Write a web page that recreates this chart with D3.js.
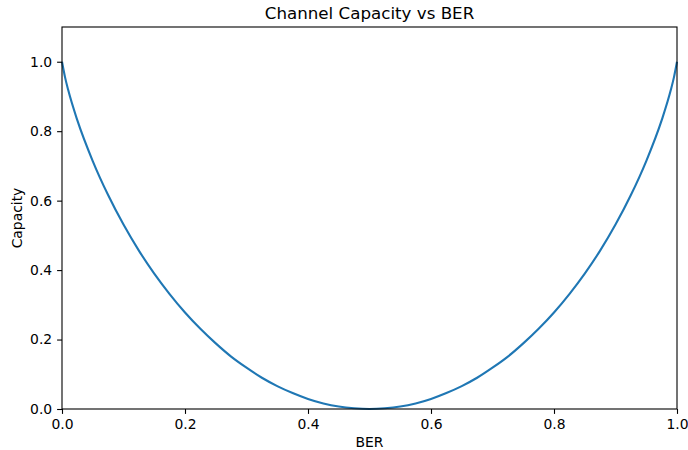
<!DOCTYPE html>
<html lang="en">
<head>
  <meta charset="UTF-8">
  <title>Channel Capacity vs BER</title>
  <script src="https://d3js.org/d3.v7.min.js"></script>
  <style>
    body {margin: 0; background: #fff;}
    text {font-family: "DejaVu Sans", sans-serif; fill: #000;}
    .tick text {font-size: 13.9px;}
    .axis-label {font-size: 13.9px;}
    .title {font-size: 16.7px;}
  </style>
</head>
<body>
  <div id="chart"></div>
  <script>
    // values
    const ber = [0, 0.005, 0.01, 0.025, 0.05, 0.075, 0.1, 0.125, 0.15, 0.175, 0.2, 0.225, 0.25,
      0.275, 0.3, 0.325, 0.35, 0.375, 0.4, 0.425, 0.45, 0.475, 0.5,
      0.525, 0.55, 0.575, 0.6, 0.625, 0.65, 0.675, 0.7, 0.725, 0.75, 0.775, 0.8,
      0.825, 0.85, 0.875, 0.9, 0.925, 0.95, 0.975, 0.99, 0.995, 1];
    const capacity = [1, 0.955, 0.919, 0.831, 0.714, 0.616, 0.531, 0.456, 0.390, 0.331, 0.278, 0.231, 0.189,
      0.151, 0.119, 0.090, 0.066, 0.046, 0.029, 0.016, 0.007, 0.002, 0,
      0.002, 0.007, 0.016, 0.029, 0.046, 0.066, 0.090, 0.119, 0.151, 0.189, 0.231, 0.278,
      0.331, 0.390, 0.456, 0.531, 0.616, 0.714, 0.831, 0.919, 0.955, 1];
    const xTicks = [0, 0.2, 0.4, 0.6, 0.8, 1.0];
    const yTicks = [0, 0.2, 0.4, 0.6, 0.8, 1.0];

    const width = 688, height = 450;
    const margin = {top: 27, right: 11, bottom: 41, left: 62};

    const svg = d3.select("#chart").append("svg")
      .attr("width", width)
      .attr("height", height);

    const x = d3.scaleLinear().domain([0, 1]).range([margin.left, width - margin.right]);
    const y = d3.scaleLinear().domain([0, 1.1]).range([height - margin.bottom, margin.top]);

    const line = d3.line()
      .x((d, i) => x(ber[i]))
      .y(d => y(d))
      .curve(d3.curveMonotoneX);

    svg.append("path")
      .datum(capacity)
      .attr("fill", "none")
      .attr("stroke", "#1f77b4")
      .attr("stroke-width", 2.1)
      .attr("d", line);

    const xAxis = svg.append("g")
      .attr("transform", `translate(0,${height - margin.bottom})`)
      .call(d3.axisBottom(x).tickValues(xTicks).tickFormat(d3.format(".1f")).tickSize(4.9).tickPadding(4.9));
    const yAxis = svg.append("g")
      .attr("transform", `translate(${margin.left},0)`)
      .call(d3.axisLeft(y).tickValues(yTicks).tickFormat(d3.format(".1f")).tickSize(4.9).tickPadding(4.9));
    [xAxis, yAxis].forEach(g => {
      g.select(".domain").remove();
      g.selectAll(".tick line").attr("stroke", "#000").attr("stroke-width", 1.1);
    });

    // frame
    svg.append("rect")
      .attr("x", margin.left)
      .attr("y", margin.top)
      .attr("width", width - margin.left - margin.right)
      .attr("height", height - margin.top - margin.bottom)
      .attr("fill", "none")
      .attr("stroke", "#000")
      .attr("stroke-width", 1.1);

    svg.append("text")
      .attr("class", "axis-label")
      .attr("x", (margin.left + width - margin.right) / 2)
      .attr("y", height - 3)
      .attr("text-anchor", "middle")
      .text("BER");

    svg.append("text")
      .attr("class", "axis-label")
      .attr("transform", `translate(22,${(margin.top + height - margin.bottom) / 2}) rotate(-90)`)
      .attr("text-anchor", "middle")
      .text("Capacity");

    svg.append("text")
      .attr("class", "title")
      .attr("x", (margin.left + width - margin.right) / 2)
      .attr("y", margin.top - 8)
      .attr("text-anchor", "middle")
      .text("Channel Capacity vs BER");
  </script>
</body>
</html>
